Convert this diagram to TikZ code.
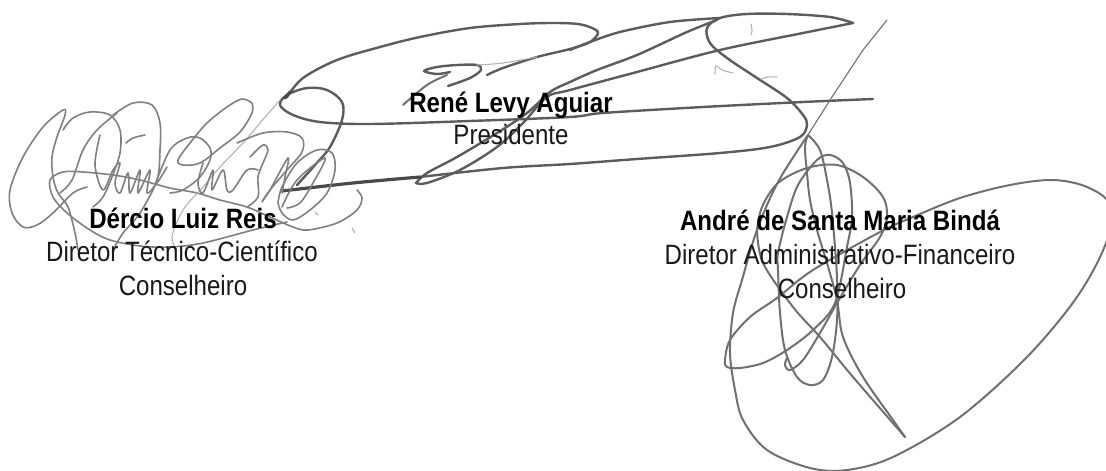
\documentclass[tikz,border=0pt]{standalone}
\usepackage{fontspec}
\setmainfont{Liberation Sans}[FakeStretch=0.86]
\definecolor{inkA}{gray}{0.36}
\definecolor{inkB}{gray}{0.44}
\definecolor{inkC}{gray}{0.5}
\tikzset{
 sigR/.style={draw=inkA,line width=2.4pt,line cap=round,line join=round},
 sigH/.style={draw=inkA!80!black,line width=3.2pt,line cap=round},
 sigB/.style={draw=inkB,line width=2pt,line cap=round,line join=round},
 sigL/.style={draw=inkC,line width=1.6pt,line cap=round,line join=round},
 sigT/.style={draw=inkC!60,line width=1.1pt,line cap=round},
 nm/.style={font=\fontsize{28}{28}\selectfont\bfseries,anchor=base,inner sep=0pt,text=black},
 rl/.style={font=\fontsize{28}{28}\selectfont,anchor=base,inner sep=0pt,text=black!90},
}
\newcommand{\crv}[2]{\draw[#1] plot[smooth,tension=.55] coordinates {#2};}
\begin{document}
\begin{tikzpicture}[x=1pt,y=-1pt]
\useasboundingbox (0,0) rectangle (1106,471);
\clip (0,0) rectangle (1106,471);
% --- René
\crv{sigR}{(287,97)(303,78)(337,60)(380,47)(420,37)(470,28)(520,24)(553,23)(578,24)(592,28)(598,33)(590,42)(570,49)(537,57)(503,68)(487,75)}
\crv{sigR}{(720,18)(670,22)(620,32)(590,42)(570,50)}
\crv{sigR}{(448,86)(470,78)(481,70)(477,65)(457,65)(437,67)(424,71)(437,74)(450,72)}
\crv{sigT}{(477,65)(503,63)(537,57)}
\crv{sigB}{(447,75)(427,85)(403,105)}
\crv{sigR}{(717,20)(687,32)(637,55)(597,70)(570,82)(550,92)(527,113)(497,133)(457,157)(427,173)(416,183)}
\crv{sigR}{(416,183)(427,183)(460,170)(497,147)(523,123)(547,97)(570,90)(637,72)(720,50)(803,33)(853,23)}
\crv{sigR}{(853,23)(830,17)(787,14)(747,14)(720,18)(707,28)(710,43)(727,58)(757,78)(787,98)(803,115)(807,125)(800,137)(770,147)(720,153)(637,159)(570,164)(503,168)(420,177)}
\crv{sigH}{(420,177)(353,183)(282,191)}
\crv{sigR}{(873,99)(803,102)(703,107)(603,113)(570,117)(470,121)(370,124)(320,122)(293,115)(280,105)(287,95)(307,88)(327,90)(342,102)(342,120)(330,147)(315,165)(297,185)}
\draw[sigH] (285,98) -- (290,92);
\crv{sigT}{(715,74)(716,66)(722,70)(733,73)}
\crv{sigT}{(751,24)(752,31)(751,35)}
\crv{sigT}{(761,79)(768,77)(777,77)}
% --- André
\draw[sigT,draw=inkB] (887,20)--(863,50)--(830,100)--(808,135);
\crv{sigB}{(808,135)(778,182)(757,230)(742,280)(733,313)(730,353)(735,390)(743,420)(767,450)(810,468)(847,470)(893,457)(960,417)(1027,357)(1077,297)(1106,243)(1110,205)(1087,187)(1053,180)(1010,185)(960,198)(913,217)(880,232)(813,270)(777,298)(750,317)(730,340)(725,360)(727,367)(740,368)(763,363)(787,350)(813,330)(835,303)(847,247)(852,217)(850,183)(843,163)(830,155)(817,160)(798,185)(787,217)(778,253)(778,270)(780,313)(785,350)(797,377)(810,385)(823,380)(832,357)(837,320)(837,277)(832,213)(827,180)(820,150)(808,135)}
\crv{sigB}{(808,135)(805,147)(807,173)(810,200)(817,230)(827,263)(837,300)(843,337)(863,377)(893,420)(905,437)}
\crv{sigB}{(757,230)(762,207)(778,183)(807,168)(837,165)(863,177)(883,197)(887,217)(880,237)(860,265)(837,303)(820,333)(803,360)(790,370)(785,365)(787,358)}
\crv{sigB}{(757,230)(763,263)(793,307)(820,337)(853,377)(905,437)}
% --- Dércio
\crv{sigL}{(87,187)(73,193)(53,213)(37,225)(23,227)(12,213)(10,190)(23,157)(43,127)(63,110)(65,115)(57,137)(52,157)(53,177)(58,193)(68,207)(75,233)(78,250)}
\crv{sigL}{(63,130)(73,118)(90,112)(110,115)(120,130)(120,153)(112,177)(103,197)(93,207)}
\crv{sigL}{(117,113)(97,130)(83,150)(72,180)(60,193)}
\crv{sigL}{(113,115)(133,103)(152,105)(160,123)(160,150)(157,180)(140,213)(123,233)(113,250)}
\crv{sigL}{(100,135)(95,165)(103,190)(113,170)(120,163)(115,183)(120,193)(128,173)(130,193)(140,170)(138,193)(150,170)(147,193)(157,183)(167,167)}
\crv{sigL}{(126,143)(133,138)(145,135)}
\crv{sigL}{(357,190)(362,198)(357,210)(337,223)(308,230)(293,227)(270,217)(247,207)(220,200)(197,193)(170,188)(140,180)(113,175)(83,172)(63,172)(50,180)(53,197)(67,213)(90,230)(110,240)(140,246)(170,247)(203,243)(253,230)(287,222)}
\crv{sigL}{(252,103)(242,99)(227,107)(207,123)(190,143)(178,160)(183,165)(200,163)(220,148)(240,132)(252,113)(252,103)}
\crv{sigL}{(155,185)(170,150)(187,138)(200,138)(210,148)(210,160)(200,177)(183,190)(170,193)}
\crv{sigT}{(280,100)(260,123)(243,143)(220,167)(203,187)(183,210)(172,237)(177,250)}
\crv{sigL}{(237,143)(263,133)(287,132)(302,138)(302,152)(287,170)(270,190)(262,202)}
\crv{sigL}{(250,157)(263,145)(268,150)(263,163)(258,177)(258,197)(247,207)}
\crv{sigL}{(203,163)(198,183)(203,193)(213,170)(212,190)(223,170)(227,190)(233,190)(247,170)(258,170)}
\crv{sigL}{(278,203)(282,187)(297,163)(317,150)(332,153)(335,170)(327,193)(310,210)(293,220)(282,213)(278,203)}
\crv{sigL}{(282,207)(297,180)(325,158)(313,183)(300,203)(287,208)}
\crv{sigL}{(263,200)(270,190)(288,158)(285,177)(282,193)}
\draw[sigT] (315,212) -- (318,215);
\draw[sigT] (352,228) -- (355,233);
% --- texts
\node[nm] (n1) at (511,112) {René Levy Aguiar};
\node[rl] (r1) at (511,144) {Presidente};
\node[nm] (n2) at (183,228) {Dércio Luiz Reis};
\node[rl] (r2) at (182,261) {Diretor Técnico-Científico};
\node[rl] (c2) at (183,295) {Conselheiro};
\node[nm] (n3) at (840,230) {André de Santa Maria Bindá};
\node[rl] (r3) at (840,264) {Diretor Administrativo-Financeiro};
\node[rl] (c3) at (842,298) {Conselheiro};
\end{tikzpicture}
\end{document}
